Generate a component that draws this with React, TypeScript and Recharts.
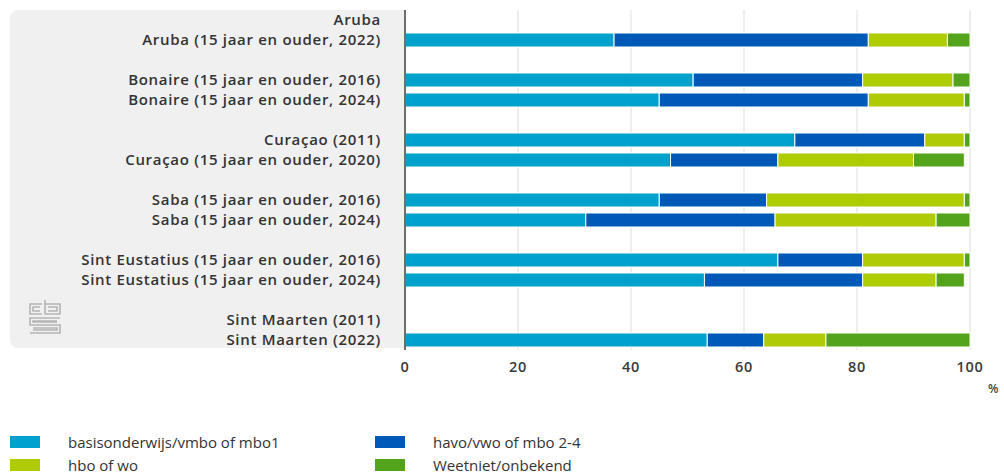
import { BarChart, Bar, XAxis, YAxis, CartesianGrid } from "recharts";

const categories = [
  "Aruba",
  "Aruba (15 jaar en ouder, 2022)",
  "",
  "Bonaire (15 jaar en ouder, 2016)",
  "Bonaire (15 jaar en ouder, 2024)",
  "",
  "Curaçao (2011)",
  "Curaçao (15 jaar en ouder, 2020)",
  "",
  "Saba (15 jaar en ouder, 2016)",
  "Saba (15 jaar en ouder, 2024)",
  "",
  "Sint Eustatius (15 jaar en ouder, 2016)",
  "Sint Eustatius (15 jaar en ouder, 2024)",
  "",
  "Sint Maarten (2011)",
  "Sint Maarten (2022)",
];

const basis = [null, 37, null, 51, 45, null, 69, 47, null, 45, 32, null, 66, 53, null, null, 53.5];
const havo = [null, 45, null, 30, 37, null, 23, 19, null, 19, 33.5, null, 15, 28, null, null, 10];
const hbo = [null, 14, null, 16, 17, null, 7, 24, null, 35, 28.5, null, 18, 13, null, null, 11];
const weetniet = [null, 4, null, 3, 1, null, 1, 9, null, 1, 6, null, 1, 5, null, null, 25.5];

const xTicks = [0, 20, 40, 60, 80, 100];

const series = [
  { key: "basis", name: "basisonderwijs/vmbo of mbo1", color: "#00a1cd" },
  { key: "havo", name: "havo/vwo of mbo 2-4", color: "#0058b8" },
  { key: "hbo", name: "hbo of wo", color: "#afcb05" },
  { key: "weetniet", name: "Weetniet/onbekend", color: "#53a31d" },
];

const data = categories.map((label, i) => ({
  id: "r" + i,
  label,
  basis: basis[i],
  havo: havo[i],
  hbo: hbo[i],
  weetniet: weetniet[i],
}));

const FONT = "'Open Sans', sans-serif";

function CbsLogo() {
  return (
    <svg
      width={36}
      height={36}
      style={{ position: "absolute", left: 27, top: 299 }}
      fill='none'
      stroke='#b4b4b4'
      strokeWidth={1.6}
    >
      <path d='M15 5 H3 V15 H15' />
      <path d='M13 8 H6 V12 H13' />
      <path d='M18 1 V15 H33 V5 H18' />
      <path d='M21 8 H30 V12 H21' />
      <path d='M33 19 H3 V26 H33 V34 H3' />
      <path d='M30 22 H6 V23 H30' />
      <path d='M6 29 H30 V31 H6' />
    </svg>
  );
}

export default function App() {
  return (
    <div
      style={{
        position: "absolute",
        left: 0,
        top: 0,
        width: 1004,
        height: 476,
        background: "#fff",
        fontFamily: FONT,
      }}
    >
      <div
        style={{
          position: "absolute",
          left: 10,
          top: 10,
          width: 396,
          height: 338,
          background: "#f0f0f0",
          borderRadius: "8px 0 0 8px",
        }}
      />
      <CbsLogo />
      <div style={{ position: "absolute", left: 0, top: 0 }}>
        <BarChart
          width={1004}
          height={400}
          data={data}
          layout='vertical'
          margin={{ top: 10, right: 34, bottom: 0, left: 10 }}
          barCategoryGap={3}
        >
          <CartesianGrid horizontal={false} stroke='#dddddd' />
          <XAxis
            type='number'
            domain={[0, 100]}
            ticks={xTicks}
            axisLine={false}
            tickLine={false}
            tickSize={0}
            tickMargin={12}
            height={50}
            tick={{ fill: "#3a3a3a", fontSize: 14.5, fontWeight: 600, fontFamily: FONT, letterSpacing: 0.7 }}
          />
          <YAxis
            type='category'
            dataKey='id'
            width={395}
            tickFormatter={(v: string) => data.find((d) => d.id === v)?.label ?? ""}
            interval={0}
            axisLine={{ stroke: "#6e6e6e", strokeWidth: 2 }}
            tickLine={false}
            tickSize={0}
            tickMargin={24}
            tick={{ fill: "#333", fontSize: 15, fontWeight: 600, fontFamily: FONT, letterSpacing: 0.7 }}
          />
          {series.map((s) => (
            <Bar
              key={s.key}
              dataKey={s.key}
              name={s.name}
              stackId='a'
              fill={s.color}
              stroke='#ffffff'
              strokeWidth={1}
              isAnimationActive={false}
            />
          ))}
        </BarChart>
      </div>
      <span
        style={{
          position: "absolute",
          left: 988,
          top: 380,
          fontSize: 12,
          color: "#444",
          fontWeight: 600,
        }}
      >
        %
      </span>
      {series.map((s, i) => (
        <div
          key={s.key}
          style={{
            position: "absolute",
            left: i % 2 === 0 ? 10 : 375,
            top: i < 2 ? 432 : 455,
            display: "flex",
            alignItems: "center",
            fontSize: 15,
            color: "#333",
          }}
        >
          <span
            style={{
              display: "inline-block",
              width: 30,
              height: 12,
              background: s.color,
              marginRight: 28,
            }}
          />
          {s.name}
        </div>
      ))}
    </div>
  );
}
